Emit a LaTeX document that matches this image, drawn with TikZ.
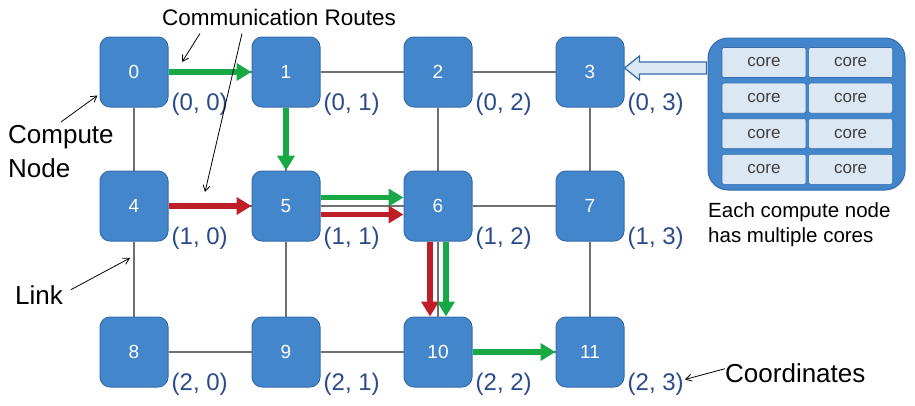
\documentclass[tikz,border=0pt]{standalone}
\usepackage{fontspec}
\setmainfont{Liberation Sans}
\usetikzlibrary{arrows.meta,positioning,backgrounds}

\definecolor{nodeblue}{RGB}{68,134,204}
\definecolor{nodeedge}{RGB}{52,108,172}
\definecolor{cellblue}{RGB}{220,231,244}
\definecolor{coordblue}{RGB}{42,74,140}
\definecolor{linkgray}{RGB}{112,112,112}
\definecolor{routegreen}{RGB}{24,168,70}
\definecolor{routered}{RGB}{190,30,38}

\begin{document}
\begin{tikzpicture}[x=1pt,y=-1pt,
    cnode/.style={draw=nodeedge,line width=1pt,fill=nodeblue,rounded corners=10pt,
        minimum width=68pt,minimum height=70pt,inner sep=0pt,
        text=white,font=\fontsize{19}{19}\selectfont},
    coord/.style={anchor=west,inner sep=0pt,text=coordblue,font=\fontsize{24}{24}\selectfont},
    link/.style={draw=linkgray,line width=2.8pt},
    route/.style={line width=5.5pt,-{Triangle[length=15pt,width=17pt]}},
    note/.style={inner sep=0pt,font=\fontsize{26}{34}\selectfont},
    callout/.style={draw=black,line width=0.8pt,-{Straight Barb[length=6pt,width=7pt]}},
    corebox/.style={draw=nodeedge,line width=1pt,fill=nodeblue,rounded corners=20pt,
        minimum width=197pt,minimum height=152pt,inner sep=0pt},
    cell/.style={draw=nodeedge,line width=0.6pt,fill=cellblue,rounded corners=2pt,
        minimum width=84pt,minimum height=30pt,inner sep=0pt,
        text=black!75,font=\fontsize{17}{17}\selectfont}]

            \useasboundingbox (0,0) rectangle (915,405);

            \node[cnode] (n0) at (134,72) {0};
            \node[cnode] (n1) at (286,72) {1};
            \node[cnode] (n2) at (438,72) {2};
            \node[cnode] (n3) at (590,72) {3};
            \node[cnode] (n4) at (134,206) {4};
            \node[cnode] (n5) at (286,206) {5};
            \node[cnode] (n6) at (438,206) {6};
            \node[cnode] (n7) at (590,206) {7};
            \node[cnode] (n8) at (134,352) {8};
            \node[cnode] (n9) at (286,352) {9};
            \node[cnode] (n10) at (438,352) {10};
            \node[cnode] (n11) at (590,352) {11};

            \node[coord] (l0) at ([xshift=3pt,yshift=3pt]n0.south east) {(0, 0)};
            \node[coord] (l1) at ([xshift=3pt,yshift=3pt]n1.south east) {(0, 1)};
            \node[coord] (l2) at ([xshift=3pt,yshift=3pt]n2.south east) {(0, 2)};
            \node[coord] (l3) at ([xshift=3pt,yshift=3pt]n3.south east) {(0, 3)};
            \node[coord] (l4) at ([xshift=3pt,yshift=3pt]n4.south east) {(1, 0)};
            \node[coord] (l5) at ([xshift=3pt,yshift=3pt]n5.south east) {(1, 1)};
            \node[coord] (l6) at ([xshift=3pt,yshift=3pt]n6.south east) {(1, 2)};
            \node[coord] (l7) at ([xshift=3pt,yshift=3pt]n7.south east) {(1, 3)};
            \node[coord] (l8) at ([xshift=3pt,yshift=3pt]n8.south east) {(2, 0)};
            \node[coord] (l9) at ([xshift=3pt,yshift=3pt]n9.south east) {(2, 1)};
            \node[coord] (l10) at ([xshift=3pt,yshift=3pt]n10.south east) {(2, 2)};
            \node[coord] (l11) at ([xshift=3pt,yshift=3pt]n11.south east) {(2, 3)};

            \begin{scope}[on background layer]
                \draw[link] (n0) -- (n1) -- (n2) -- (n3);
                \draw[link] (n4) -- (n5) -- (n6) -- (n7);
                \draw[link] (n8) -- (n9) -- (n10) -- (n11);
                \draw[link] (n0) -- (n4) -- (n8);
                \draw[link] (n1) -- (n5) -- (n9);
                \draw[link] (n2) -- (n6) -- (n10);
                \draw[link] (n3) -- (n7) -- (n11);
            \end{scope}

            \draw[route,routegreen] (n0) -- (n1);
            \draw[route,routegreen] (n1) -- (n5);
            \draw[route,routered] (n4) -- (n5);
            \draw[route,routegreen] ([yshift=8.5pt]n5.east) -- ([yshift=8.5pt]n6.west);
            \draw[route,routered] ([yshift=-8.5pt]n5.east) -- ([yshift=-8.5pt]n6.west);
            \draw[route,routered] ([xshift=-8pt]n6.south) -- ([xshift=-8pt]n10.north);
            \draw[route,routegreen] ([xshift=8pt]n6.south) -- ([xshift=8pt]n10.north);
            \draw[route,routegreen] (n10) -- (n11);

            \node[corebox] (cores) at (806.5,114) {};
            \node[cell] (c1) at (764,62.5) {core};
            \node[cell,right=2pt of c1] (c2) {core};
            \node[cell,below=5pt of c1] (c3) {core};
            \node[cell,right=2pt of c3] (c4) {core};
            \node[cell,below=5pt of c3] (c5) {core};
            \node[cell,right=2pt of c5] (c6) {core};
            \node[cell,below=5pt of c5] (c7) {core};
            \node[cell,right=2pt of c7] (c8) {core};

            \coordinate (tip) at ([yshift=4pt]n3.east);
            \draw[draw=nodeedge,line width=1.2pt,fill=cellblue] (tip)
                -- ++(15,-12)
                -- ++(0,6)
                -- ++(67,0)
                -- ++(0,12)
                -- ++(-67,0)
                -- ++(0,6)
                -- cycle;

            \node[note,font=\fontsize{22.5}{22.5}\selectfont] (cr) at (279,17) {Communication Routes};
            \node[note,align=left,anchor=north west] (cn) at (8,125) {Compute\\Node};
            \node[note,anchor=base west] (lk) at (15,304) {Link};
            \node[note,anchor=base west] (cd) at (725,382) {Coordinates};
            \node[note,align=left,anchor=north west,font=\fontsize{20.5}{25}\selectfont] (each) at (708,202)
                {Each compute node\\has multiple cores};

            \coordinate (rt1) at (182,62);
            \coordinate (rt2) at (205,192);
            \coordinate (lt) at (130,258);
            \draw[callout] ([xshift=-79pt,yshift=-8pt]cr.south) -- (rt1);
            \draw[callout] ([xshift=-37pt,yshift=-8pt]cr.south) -- (rt2);
            \draw[callout] ([yshift=3pt]cn.north) -- ([xshift=-2pt,yshift=12pt]n0.south west);
            \draw[callout] ([xshift=8pt,yshift=5pt]lk.east) -- (lt);
            \draw[callout] ([yshift=4pt]cd.west) -- ([xshift=1pt,yshift=5pt]l11.east);
        \end{tikzpicture}
\end{document}
